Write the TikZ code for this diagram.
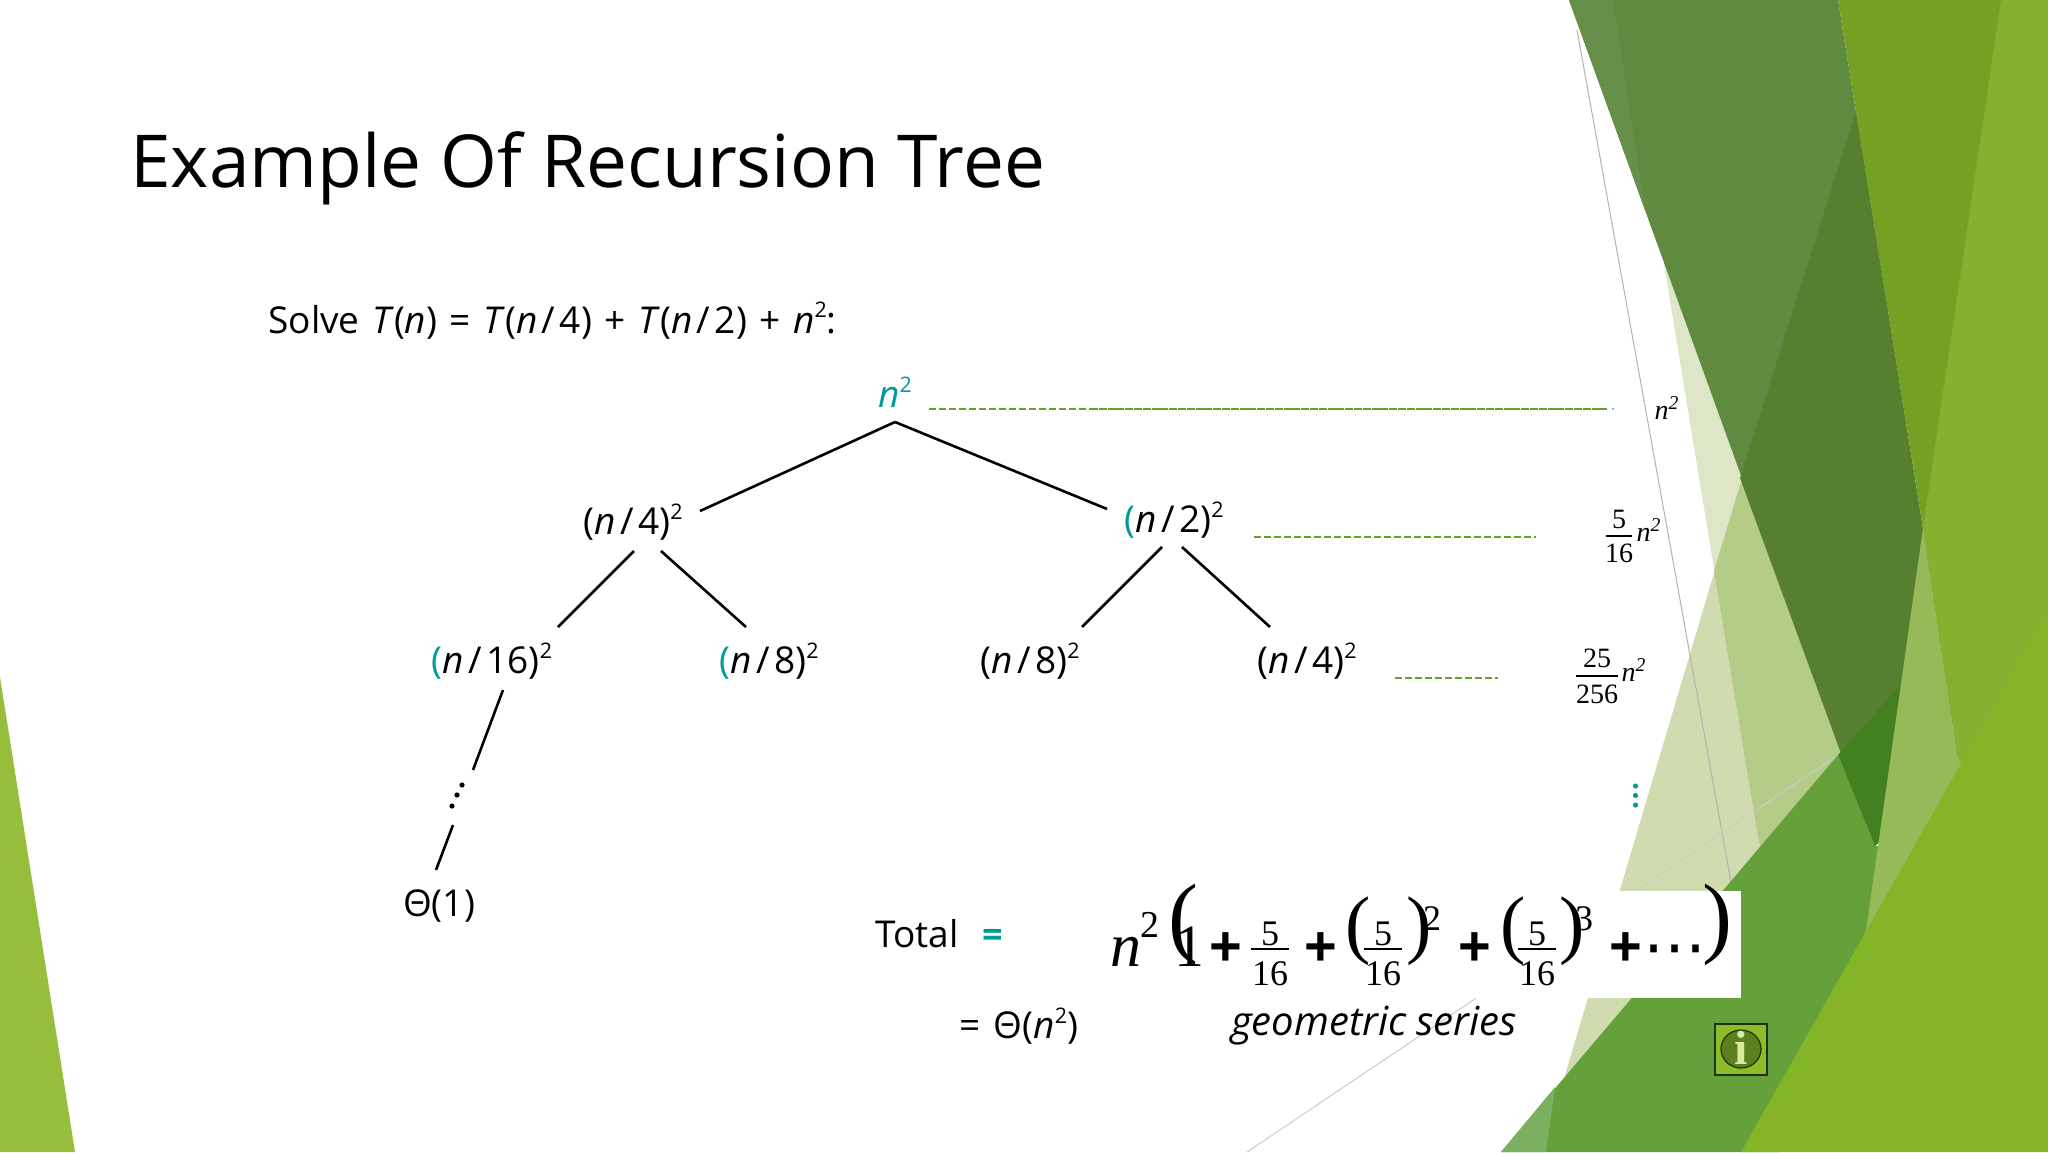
\documentclass[tikz,border=0pt]{standalone}
\usepackage{fontspec}
\setmainfont{Open Sans}
\newfontfamily\serif{Liberation Serif}
\newfontfamily\arialb{Liberation Sans}
\newfontfamily\dejavu{DejaVu Sans}
\definecolor{teal1}{HTML}{009A9A}
\definecolor{dash1}{HTML}{6AA02A}
\newcommand{\px}[1]{\fontsize{\fpeval{#1/2}}{\fpeval{#1/2*1.2}}\selectfont}
\newcommand{\nt}{\textit{n}}
\newcommand{\sla}{\kern.12em/\kern.12em}
\newcommand{\sq}{\raisebox{0.42em}{\scalebox{0.58}{2}}}
\newcommand{\frc}[9]{%name,cx,ybar,halfw,size,num,den,numoff,denoff
 \node[ser,anchor=base,font=\serif\px{#5}] (#1n) at (#2,{#3-#8}) {#6};
 \node[ser,anchor=base,font=\serif\px{#5}] (#1d) at (#2,{#3+#9}) {#7};
 \draw[line width=0.55pt,black] ({#2-#4},#3) -- ({#2+#4},#3);}
\tikzset{
 lab/.style={inner sep=0pt,font=\px{37}},
 ser/.style={inner sep=0pt},
 edge/.style={black,line width=1.3pt},
 dashg/.style={dash1,line width=0.75pt,dash pattern=on 3.3pt off 1.7pt},
 thin1/.style={gray!60,line width=0.5pt},
}
\begin{document}
\begin{tikzpicture}[x=0.5pt,y=-0.5pt]
\useasboundingbox (0,0) rectangle (2048,1152);
\fill[white] (0,0) rectangle (2048,1152);
% left triangle
\fill[fill={rgb,255:red,151;green,189;blue,60}] (0,677) -- (75,1152) -- (0,1152) -- cycle;
% pale shapes
\fill[fill={rgb,255:red,221;green,230;blue,198}] (1664,264) -- (1800,400) -- (1900,800) -- (1759,843) -- cycle;
\fill[fill={rgb,255:red,208;green,220;blue,176}] (1741,482) -- (1850,700) -- (1700,1000) -- (1600,1100) -- (1565,1075) -- cycle;
\fill[fill={rgb,255:red,180;green,204;blue,136}] (1741,482) -- (1830,600) -- (1900,800) -- (1780,880) -- (1759,843) -- (1714,571) -- cycle;
% thin lines
\draw[thin1] (1577,30) -- (1731,882);
\draw[gray!40,line width=0.5pt] (1838,755) -- (1247,1152);
% dark band
\fill[fill={rgb,255:red,95;green,138;blue,63}] (1569,0) -- (1838,0) -- (1960,760) -- (1875,846) -- cycle;
\fill[fill={rgb,255:red,102;green,144;blue,74}] (1569,0) -- (1613,0) -- (1645,210) -- cycle;
\fill[fill={rgb,255:red,86;green,128;blue,48}] (1856,111) -- (1740,478) -- (1875,846) -- (1960,760) -- cycle;
% mid green
\fill[fill={rgb,255:red,102;green,160;blue,58}] (1501,1152) -- (1838,755) -- (1875,846) -- (1900,846) -- (1900,960) -- (1780,1152) -- cycle;
\fill[fill={rgb,255:red,122;green,176;blue,96}] (1501,1152) -- (1546,1152) -- (1555,1087) -- cycle;
\fill[fill={rgb,255:red,67;green,128;blue,31}] (1838,755) -- (1905,680) -- (1905,800) -- (1875,846) -- cycle;
% bands
\fill[fill={rgb,255:red,116;green,160;blue,36}] (1838,0) -- (2030,0) -- (1950,528) -- (1923,528) -- cycle;
\fill[fill={rgb,255:red,150;green,186;blue,90}] (1923,528) -- (1958,758) -- (1990,800) -- (1900,980) -- (1861,960) -- (1867,924) -- cycle;
\fill[fill={rgb,255:red,134;green,176;blue,48}] (2001,0) -- (2048,0) -- (2048,700) -- (1990,800) -- (1958,758) -- (1923,528) -- cycle;
% front green
\fill[fill={rgb,255:red,132;green,180;blue,40}] (2048,610) -- (2048,1152) -- (1741,1152) -- cycle;
% white formula box
\fill[white] (1180,891) rectangle (1741,998);
% title
\node[inner sep=0pt,anchor=base west,font=\px{73}] (title) at (130,187) {Example Of Recursion Tree};
\node[lab,anchor=base west] (solve) at (268,333) {\spaceskip=0.34em Solve \textit{T}(\nt) = \textit{T}(\nt\sla 4) + \textit{T}(\nt\sla 2) + \nt\sq:};
% tree
\node[lab,text=teal1] (root) at (895,392) {\nt\sq};
\node[lab] (a) at (633,522) {(\nt\sla 4)\sq};
\node[lab] (b) at (1174,520) {{\color{teal1}(}\nt\sla 2)\sq};
\node[lab] (c) at (492,661) {{\color{teal1}(}\nt\sla 16)\sq};
\node[lab] (d) at (769,661) {{\color{teal1}(}\nt\sla 8)\sq};
\node[lab] (e) at (1030,661) {(\nt\sla 8)\sq};
\node[lab] (f) at (1307,661) {(\nt\sla 4)\sq};
\node[lab] (g) at (439,906) {Θ(1)};
\coordinate (vdots) at (457,797);
\draw[edge] ([shift={(0,30)}]root.center) -- ([shift={(67,-11)}]a.center);
\draw[edge] ([shift={(0,30)}]root.center) -- ([shift={(-67,-11)}]b.center);
\draw[edge] ([shift={(1,29)}]a.center) -- ([shift={(66,-34)}]c.center);
\draw[edge] ([shift={(28,29)}]a.center) -- ([shift={(-23,-34)}]d.center);
\draw[edge] ([shift={(-12,27)}]b.center) -- ([shift={(52,-34)}]e.center);
\draw[edge] ([shift={(8,27)}]b.center) -- ([shift={(-37,-34)}]f.center);
\draw[edge] ([shift={(11,29)}]c.center) -- ([shift={(16,-27)}]vdots);
\draw[edge] ([shift={(-4,28)}]vdots) -- ([shift={(-3,-36)}]g.center);
\fill[black] (462,785) circle[radius=2.6];
\fill[black] (457,795) circle[radius=2.6];
\fill[black] (452,806) circle[radius=2.6];
% level dashes
\coordinate (l1a) at (929,409); \coordinate (l1b) at (1090,409); \coordinate (l1c) at (1607,409);
\node[ser,font=\serif\itshape\px{28}] (r1) at (1667,408) {n\textsuperscript{2}};
\draw[dashg] (l1a) -- (l1b);
\draw[dash1,line width=0.8pt,dash pattern=on 4pt off 0.4pt] (l1b) -- (l1c);
\draw[dashg] (1254,537) -- (1536,537);
\draw[dashg] (1395,678) -- (1498,678);
\fill[dash1] (1613,409) circle[radius=1];
\frc{r2}{1619}{536}{13}{28}{5}{16}{8}{26}
\node[ser,font=\serif\itshape\px{28}] (r2t) at (1649,530) {n\textsuperscript{2}};
\frc{r3}{1597}{676}{21}{28}{25}{256}{9}{27}
\node[ser,font=\serif\itshape\px{28}] (r3t) at (1634,670) {n\textsuperscript{2}};
\fill[teal1] (1635.5,786) circle[radius=2.6];
\fill[teal1] (1635.5,795.5) circle[radius=2.6];
\fill[teal1] (1635.5,805) circle[radius=2.6];
% total
\node[lab] (total) at (917,934) {Total};
\node[lab,text=teal1,font=\bfseries\px{36}] (eq) at (993,938) {=};
\node[lab] (res) at (1019,1026) {\spaceskip=0.34em = Θ(\nt\sq)};
\node[lab,font=\itshape\px{40}] (geo) at (1374,1026) {geometric series};
% formula
\node[ser,anchor=base,font=\serif\itshape\px{62}] (fn) at (1126,966) {n};
\node[ser,anchor=base,font=\serif\px{38}] (fn2) at (1150,937) {2};
\node[ser,font=\serif\px{90}] (po) at (1183,925) {(};
\node[ser,anchor=base,font=\serif\px{60}] (one) at (1189,966) {1};
\foreach \nm/\xx in {p1/1226,p2/1321,p3/1475,p4/1626}
  \node[ser,font=\arialb\bfseries\px{56}] (\nm) at (\xx,949) {+};
\frc{f1}{1270}{949}{19}{36}{5}{16}{4}{36}
\frc{f2}{1383}{949}{19}{36}{5}{16}{4}{36}
\frc{f3}{1537}{949}{19}{36}{5}{16}{4}{36}
\node[ser,font=\serif\px{76}] (q1) at (1358,931) {(};
\node[ser,font=\serif\px{76}] (q2) at (1419,931) {)};
\node[ser,font=\serif\px{76}] (q3) at (1513,931) {(};
\node[ser,font=\serif\px{76}] (q4) at (1572,931) {)};
\node[ser,anchor=base,font=\serif\px{36}] (s2) at (1432,930) {2};
\node[ser,anchor=base,font=\serif\px{36}] (s3) at (1584,930) {3};
\node[ser,font=\dejavu\px{63}] (dots) at (1675,957) {⋯};
\node[ser,font=\serif\px{90}] (pc) at (1717,925) {)};
% info icon
\draw[fill={rgb,255:red,140;green,188;blue,40},draw={rgb,255:red,30;green,50;blue,15},line width=0.7pt] (1715,1024) rectangle (1767,1075);
\draw[draw={rgb,255:red,30;green,50;blue,15},fill={rgb,255:red,93;green,127;blue,30},line width=0.6pt] (1741,1049) ellipse[x radius=20,y radius=19];
\node[ser,text={rgb,255:red,216;green,234;blue,160},font=\serif\bfseries\px{48}] (ii) at (1741,1048) {i};
\end{tikzpicture}
\end{document}
